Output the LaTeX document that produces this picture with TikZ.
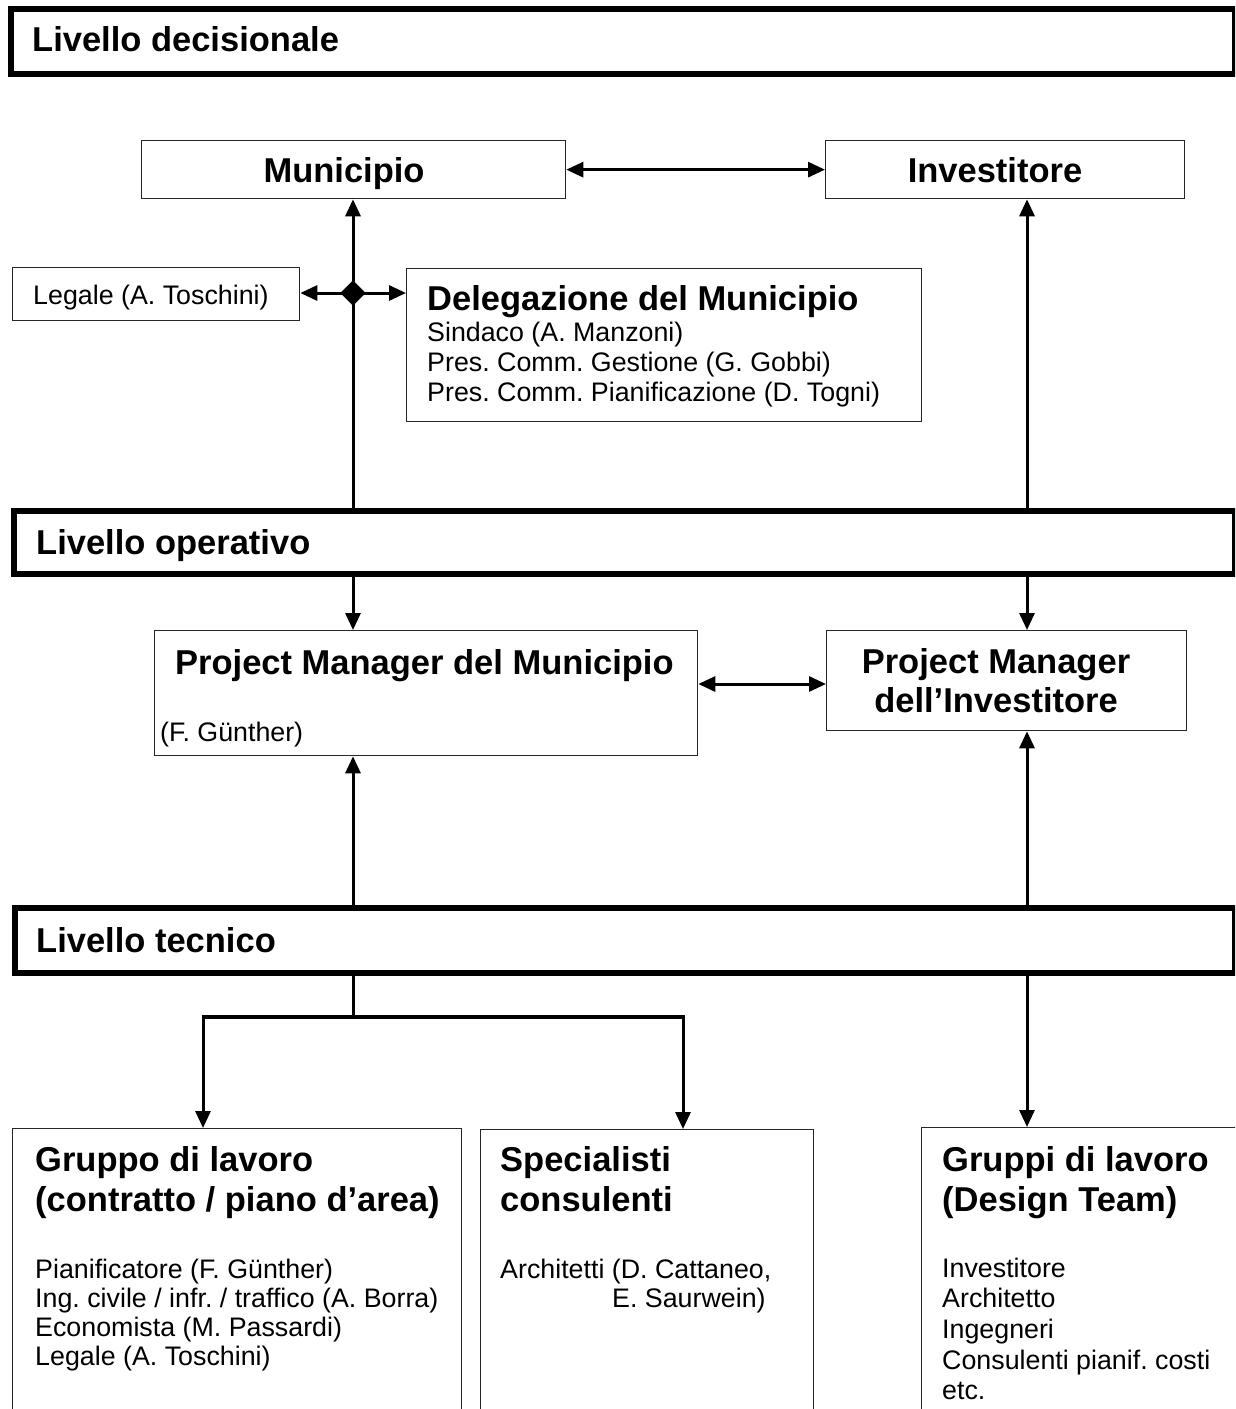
\documentclass[tikz,border=0pt]{standalone}
\usepackage{fontspec}
\setmainfont{Liberation Sans}
\usetikzlibrary{arrows.meta,shapes.geometric}
\newcommand\hfont{\fontsize{34.5}{39}\selectfont\bfseries}
\newcommand\rfont{\fontsize{26.8}{30}\selectfont}
\frenchspacing
\begin{document}
\frenchspacing
\begin{tikzpicture}[x=1pt,y=-1pt,
  band/.style={draw=black, line width=6pt, rectangle, inner sep=0pt, anchor=north west},
  box/.style={draw=black!85, line width=1.3pt, rectangle, inner sep=0pt, anchor=north west},
  htext/.style={inner sep=0pt, anchor=base west, font=\hfont},
  rtext/.style={inner sep=0pt, anchor=base west, font=\rfont},
  conn/.style={draw=black, line width=3pt},
  tip/.style={-{Triangle[length=17pt,width=15pt]}},
  tips/.style={{Triangle[length=17pt,width=15pt]}-{Triangle[length=17pt,width=15pt]}}
]
\useasboundingbox (0,0) rectangle (1235,1409);
\clip (0,0) rectangle (1235,1409);

% bands
\node[band, minimum width=1224, minimum height=65] (b1) at (8,6) {};
\node[htext] (t1) at (32,51) {Livello decisionale};
\node[band, minimum width=1221, minimum height=63] (b2) at (11,508) {};
\node[htext] (t2) at (36,554) {Livello operativo};
\node[band, minimum width=1220, minimum height=65] (b3) at (12,905) {};
\node[htext] (t3) at (36,952) {Livello tecnico};

% reference columns
\coordinate (lx) at (353,0);
\coordinate (rx) at (1027,0);

% top level boxes
\node[box, minimum width=424, minimum height=58] (mun) at (141,140) {};
\node[htext, anchor=base] (munt) at (344,182) {Municipio};
\node[box, minimum width=359, minimum height=58] (inv) at (825,140) {};
\node[htext, anchor=base] (invt) at (995,182) {Investitore};

\node[box, minimum width=287, minimum height=53] (leg) at (12,267) {};
\node[rtext] (legt) at (33,304) {Legale (A. Toschini)};

\node[box, minimum width=515, minimum height=153] (del) at (406,268) {};
\node[htext] (delt) at (427,310) {Delegazione del Municipio};
\node[rtext] (del1) at (427,341) {Sindaco (A. Manzoni)};
\node[rtext] (del2) at (427,371) {Pres. Comm. Gestione (G. Gobbi)};
\node[rtext] (del3) at (427,401) {Pres. Comm. Pianificazione (D. Togni)};

\node[draw, fill=black, shape=diamond, inner sep=0pt, minimum width=25pt, minimum height=25pt] (dia) at (353,293) {};

% operative boxes
\node[box, minimum width=543, minimum height=125] (pmm) at (154,630) {};
\node[htext] (pmmt) at (175,674) {Project Manager del Municipio};
\node[rtext] (pmmn) at (160,741) {(F. Günther)};
\node[box, minimum width=360, minimum height=100] (pmi) at (826,630) {};
\node[htext, anchor=base] (pmit1) at (996,673) {Project Manager};
\node[htext, anchor=base] (pmit2) at (996,712) {dell’Investitore};

% bottom boxes
\node[box, minimum width=449, minimum height=320] (g1) at (12,1128) {};
\node[htext] (g1t1) at (35,1171) {Gruppo di lavoro};
\node[htext] (g1t2) at (35,1211) {(contratto / piano d’area)};
\node[rtext] (g1a) at (35,1278) {Pianificatore (F. Günther)};
\node[rtext] (g1b) at (35,1307) {Ing. civile / infr. / traffico (A. Borra)};
\node[rtext] (g1c) at (35,1336) {Economista (M. Passardi)};
\node[rtext] (g1d) at (35,1365) {Legale (A. Toschini)};

\node[box, minimum width=333, minimum height=320] (g2) at (480,1129) {};
\node[htext] (g2t1) at (500,1171) {Specialisti};
\node[htext] (g2t2) at (500,1211) {consulenti};
\node[rtext] (g2a) at (500,1278) {Architetti (D. Cattaneo,};
\node[rtext] (g2b) at (612,1307) {E. Saurwein)};

\node[box, minimum width=320, minimum height=320] (g3) at (921,1127) {};
\node[htext] (g3t1) at (942,1171) {Gruppi di lavoro};
\node[htext] (g3t2) at (942,1211) {(Design Team)};
\node[rtext] (g3a) at (942,1277) {Investitore};
\node[rtext] (g3b) at (942,1307) {Architetto};
\node[rtext] (g3c) at (942,1338) {Ingegneri};
\node[rtext] (g3d) at (942,1369) {Consulenti pianif. costi};
\node[rtext] (g3e) at (942,1399) {etc.};

% connectors: decision level
\draw[conn, tips] (mun.east) -- (inv.west);
\draw[conn, tip] (lx |- b2.north) -- (lx |- mun.south);
\draw[conn, tip] (dia.center) -- (leg.east |- dia.center);
\draw[conn, tip] (dia.center) -- (del.west |- dia.center);
\draw[conn, tip] (rx |- b2.north) -- (rx |- inv.south);

% operative level
\coordinate (my) at (0,684);
\draw[conn, tip] (lx |- b2.south) -- (lx |- pmm.north);
\draw[conn, tip] (rx |- b2.south) -- (rx |- pmi.north);
\draw[conn, tips] (pmm.east |- my) -- (pmi.west |- my);
\draw[conn, tip] (lx |- b3.north) -- (lx |- pmm.south);
\draw[conn, tip] (rx |- b3.north) -- (rx |- pmi.south);

% technical level
\coordinate (split) at (353,1017);
\coordinate (sl) at (203,1017);
\coordinate (sr) at (683,1017);
\draw[conn] (lx |- b3.south) -- (split);
\draw[conn, line width=4pt] ([xshift=-1.5pt]sl) -- ([xshift=1.5pt]sr);
\draw[conn, tip] (sl) -- (sl |- g1.north);
\draw[conn, tip] (sr) -- (sr |- g2.north);
\draw[conn, tip] (rx |- b3.south) -- (rx |- g3.north);
\end{tikzpicture}
\end{document}
